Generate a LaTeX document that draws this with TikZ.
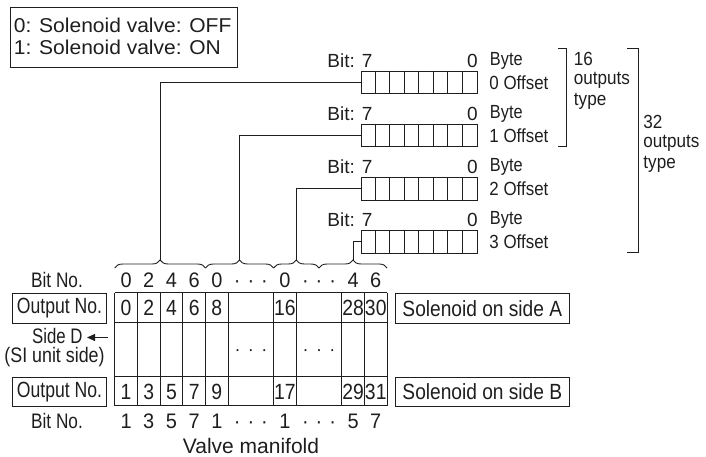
\documentclass[tikz,border=0pt]{standalone}
\usepackage{fontspec}
\setmainfont{Liberation Sans}
\usetikzlibrary{decorations.pathreplacing,arrows.meta}
\newcommand\fsz[1]{\fontsize{#1}{#1}\selectfont}
\newcommand\sx[2]{\scalebox{#1}[1]{#2}}
\newcommand\tdots{·\hspace{7.4pt}·\hspace{7.4pt}·}
\definecolor{ink}{RGB}{30,30,30}
\begin{document}
\begin{tikzpicture}[x=1pt,y=-1pt,color=ink,line width=0.9pt,
  lbl/.style={inner sep=0pt,font=\fsz{19}},
  dig/.style={inner sep=0pt,font=\fsz{21},anchor=base},
  tdig/.style={inner sep=0pt,font=\fsz{22},anchor=base},
  boxed/.style={draw,inner sep=0pt,anchor=north west},
  regbox/.style={draw,inner sep=0pt,anchor=north west,minimum width=116pt,minimum height=22.5pt},
  brc/.style={decorate,decoration={brace,amplitude=8pt}}]
\useasboundingbox (0,0) rectangle (706,457);

% legend
\node[boxed,minimum width=227pt,minimum height=60pt] (leg) at (10,7) {};
\node[lbl,anchor=west,font=\fsz{20}] (leg0) at (13.5,25) {\sx{1.05}{0: Solenoid valve: OFF}};
\node[lbl,anchor=west,font=\fsz{20}] (leg1) at (13.5,47.5) {\sx{1.05}{1: Solenoid valve: ON}};

% registers
\foreach \r in {0,1,2,3}{
  \node[regbox] (reg\r) at (360.7,71+53*\r) {};
  \foreach \k in {1,...,7}
    \draw ([xshift=\k*14.5pt]reg\r.north west) -- ([xshift=\k*14.5pt]reg\r.south west);
  \node[lbl,anchor=east] (bit\r) at (373,61+53*\r) {Bit: 7};
  \node[lbl] (zero\r) at (472.5,61+53*\r) {0};
  \node[lbl,anchor=west] (byte\r) at (489.5,61+53*\r) {\sx{0.86}{Byte}};
  \node[lbl,anchor=west] (off\r) at (489,82.5+53*\r) {\sx{0.89}{\r\ Offset}};
}

% right brackets
\coordinate (k16t) at (558,48);
\coordinate (k16b) at (558,146.5);
\draw (k16t) -- (566,48) -- (566,146.5) -- (k16b);
\node[lbl,anchor=west] (t16a) at (573.5,58.5) {\sx{0.9}{16}};
\node[lbl,anchor=west] (t16b) at (573.5,80) {\sx{0.9}{outputs}};
\node[lbl,anchor=west] (t16c) at (573.5,101) {\sx{0.9}{type}};
\coordinate (k32t) at (627,48);
\coordinate (k32b) at (627,252);
\draw (k32t) -- (638.5,48) -- (638.5,252) -- (k32b);
\node[lbl,anchor=west] (t32a) at (643,122) {\sx{0.9}{32}};
\node[lbl,anchor=west] (t32b) at (643,143.5) {\sx{0.9}{outputs}};
\node[lbl,anchor=west] (t32c) at (643,164.5) {\sx{0.9}{type}};

% braces
\draw[brc] (114.7,268) -- (205.5,268);
\draw[brc] (205.5,268) -- (273.6,268);
\draw[brc] (273.6,268) -- (319,268);
\draw[brc] (319,268) -- (387.1,268);
\coordinate (bt0) at (160.1,260);
\coordinate (bt1) at (239.55,260);
\coordinate (bt2) at (296.3,260);
\coordinate (bt3) at (353.05,260);

% connectors
\draw (reg0.west) -| (bt0);
\draw (reg1.west) -| (bt1);
\draw (reg2.west) -| (bt2);
\draw (reg3.west) -| (bt3);

% table
\foreach \x in {114.7,137.4,160.1,182.8,205.5,228.2,273.6,296.3,341.7,364.4,387.1}
  \draw (\x,292.7) -- (\x,405.7);
\foreach \y in {292.7,322.7,376.7,405.7}
  \draw (114.7,\y) -- (387.1,\y);

% top bit numbers
\foreach \x/\t [count=\i] in {126.05/0,148.75/2,171.45/4,194.15/6,216.85/0,250.9/\tdots,284.95/0,319/\tdots,353.05/4,375.75/6}
  \node[dig] (tb\i) at (\x,287.5) {\sx{0.95}{\t}};
% output numbers side A
\foreach \x/\t [count=\i] in {126.05/0,148.75/2,171.45/4,194.15/6,216.85/8,284.95/16,353.05/28,375.75/30}
  \node[tdig] (oa\i) at (\x,315.6) {\sx{0.88}{\t}};
% middle dots
\node[dig,font=\fsz{18}] (md1) at (250.9,355) {\tdots};
\node[dig,font=\fsz{18}] (md2) at (319,355) {\tdots};
% output numbers side B
\foreach \x/\t [count=\i] in {126.05/1,148.75/3,171.45/5,194.15/7,216.85/9,284.95/17,353.05/29,375.75/31}
  \node[tdig] (ob\i) at (\x,399.1) {\sx{0.88}{\t}};
% bottom bit numbers
\foreach \x/\t [count=\i] in {126.05/1,148.75/3,171.45/5,194.15/7,216.85/1,250.9/\tdots,284.95/1,319/\tdots,353.05/5,375.75/7}
  \node[dig] (bb\i) at (\x,428.5) {\sx{0.95}{\t}};

% left labels
\node[lbl,font=\fsz{21}] (bitnoA) at (57,280) {\sx{0.82}{Bit No.}};
\node[boxed,minimum width=94pt,minimum height=30.6pt,font=\fsz{22}] (outA) at (12,292.7) {\sx{0.8}{Output No.}};
\node[lbl,anchor=east,font=\fsz{21}] (sided) at (83,336) {\sx{0.8}{Side D}};
\coordinate (arrS) at (108,337.5);
\coordinate (arrE) at (87,337.5);
\draw[-{Triangle[length=8pt,width=7pt]}] (arrS) -- (arrE);
\node[lbl,font=\fsz{21}] (siunit) at (54.5,357) {\sx{0.85}{(SI unit side)}};
\node[boxed,minimum width=94pt,minimum height=29pt,font=\fsz{22}] (outB) at (12,376.7) {\sx{0.8}{Output No.}};
\node[lbl,font=\fsz{21}] (bitnoB) at (57,421) {\sx{0.82}{Bit No.}};

% right labels
\node[boxed,minimum width=174.3pt,minimum height=30.6pt,font=\fsz{22}] (solA) at (394.7,292.7) {\sx{0.87}{Solenoid on side A}};
\node[boxed,minimum width=174.3pt,minimum height=29pt,font=\fsz{22}] (solB) at (394.7,376.7) {\sx{0.87}{Solenoid on side B}};

% caption
\node[lbl,font=\fsz{21}] (cap) at (251,446) {Valve manifold};
\end{tikzpicture}
\end{document}
